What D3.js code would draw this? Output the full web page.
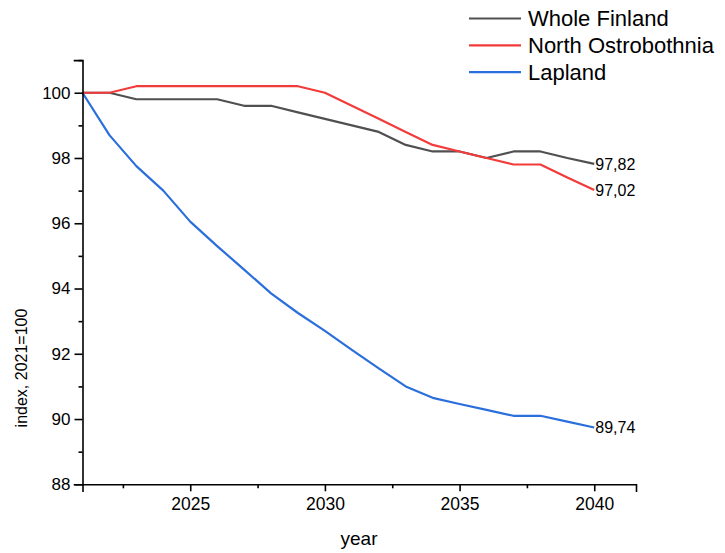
<!DOCTYPE html>
<html>
<head>
<meta charset="utf-8">
<script src="https://cdn.jsdelivr.net/npm/d3@7"></script>
<style>
  html, body { margin: 0; padding: 0; background: #fff; }
  svg { display: block; font-family: "Liberation Sans", Arial, sans-serif; }
  .axis path, .axis line { stroke: #000; stroke-width: 1.6; }
  .axis text { fill: #000; }
</style>
</head>
<body>
<svg id="chart" width="725" height="553"></svg>
<script>
// Population index, 2021 = 100
const years = [2021, 2022, 2023, 2024, 2025, 2026, 2027, 2028, 2029, 2030,
               2031, 2032, 2033, 2034, 2035, 2036, 2037, 2038, 2039, 2040];
const wholeFinland = [100, 100, 99.8, 99.8, 99.8, 99.8, 99.6, 99.6, 99.4, 99.2,
                      99.0, 98.8, 98.4, 98.2, 98.2, 98.0, 98.2, 98.2, 98.0, 97.82];
const northOstrobothnia = [100, 100, 100.2, 100.2, 100.2, 100.2, 100.2, 100.2, 100.2, 100.0,
                           99.6, 99.2, 98.8, 98.4, 98.2, 98.0, 97.8, 97.8, 97.4, 97.02];
const lapland = [100, 98.7, 97.75, 97.0, 96.05, 95.3, 94.58, 93.85, 93.25, 92.7,
                 92.12, 91.55, 91.0, 90.65, 90.46, 90.28, 90.1, 90.1, 89.92, 89.74];
const seriesNames = ["Whole Finland", "North Ostrobothnia", "Lapland"];
const seriesColors = ["#505050", "#f23b3b", "#2a6fdb"];
const yMajorTicks = [88, 90, 92, 94, 96, 98, 100];
const yMinorTicks = [89, 91, 93, 95, 97, 99, 101];
const xMajorTicks = [2025, 2030, 2035, 2040];
const xMinorTicks = [2022.5, 2027.5, 2032.5, 2037.5];

const seriesValues = [wholeFinland, northOstrobothnia, lapland];
const series = seriesNames.map((name, i) => ({
  name,
  color: seriesColors[i],
  points: years.map((y, j) => ({ year: y, value: seriesValues[i][j] }))
}));

const svg = d3.select("#chart");

const x = d3.scaleLinear().domain([2021, 2041.55]).range([82.5, 636]);
const y = d3.scaleLinear().domain([88, 101]).range([484.3, 60.1]);

// Lines
const line = d3.line().x(d => x(d.year)).y(d => y(d.value));
svg.append("g")
  .selectAll("path")
  .data(series)
  .join("path")
  .attr("fill", "none")
  .attr("stroke", d => d.color)
  .attr("stroke-width", 2.2)
  .attr("stroke-linejoin", "round")
  .attr("d", d => line(d.points));

// Y axis (major + minor ticks)
const yAxis = svg.append("g").attr("class", "axis")
  .attr("transform", `translate(${x(2021)},0)`)
  .call(d3.axisLeft(y).tickValues(yMajorTicks).tickSize(8).tickPadding(4)
        .tickFormat(d3.format("d")));
yAxis.selectAll("text").style("font-size", "17px");
svg.append("g").attr("class", "axis")
  .attr("transform", `translate(${x(2021)},0)`)
  .call(d3.axisLeft(y).tickValues(yMinorTicks).tickSize(4).tickFormat(""))
  .select(".domain").remove();

// X axis (major + minor ticks)
const xAxis = svg.append("g").attr("class", "axis")
  .attr("transform", `translate(0,${y(88)})`)
  .call(d3.axisBottom(x).tickValues(xMajorTicks).tickSize(7).tickPadding(6)
        .tickFormat(d3.format("d")));
xAxis.selectAll("text").style("font-size", "17.5px");
svg.append("g").attr("class", "axis")
  .attr("transform", `translate(0,${y(88)})`)
  .call(d3.axisBottom(x).tickValues(xMinorTicks).tickSize(4).tickFormat(""))
  .select(".domain").remove();
svg.selectAll(".axis .domain").attr("stroke-linecap", "square");

// Axis titles
svg.append("text")
  .attr("x", 359).attr("y", 545)
  .attr("text-anchor", "middle")
  .style("font-size", "19px")
  .text("year");
svg.append("text")
  .attr("transform", "translate(27,368) rotate(-90)")
  .attr("text-anchor", "middle")
  .style("font-size", "16px")
  .text("index, 2021=100");

// End-of-line value labels (decimal comma)
const fmt = v => d3.format(".2f")(v).replace(".", ",");
svg.append("g")
  .selectAll("text")
  .data(series)
  .join("text")
  .attr("x", d => x(d.points[d.points.length - 1].year) + 1)
  .attr("y", d => y(d.points[d.points.length - 1].value))
  .attr("dy", "0.36em")
  .style("font-size", "16px")
  .text(d => fmt(d.points[d.points.length - 1].value));

// Legend
const legend = svg.append("g")
  .selectAll("g")
  .data(series)
  .join("g")
  .attr("transform", (d, i) => `translate(469,${18.5 + i * 26.8})`);
legend.append("line")
  .attr("x1", 0).attr("x2", 52)
  .attr("stroke", d => d.color)
  .attr("stroke-width", 2.2);
legend.append("text")
  .attr("x", 59).attr("dy", "0.36em")
  .style("font-size", "22px")
  .text(d => d.name);
</script>
</body>
</html>
